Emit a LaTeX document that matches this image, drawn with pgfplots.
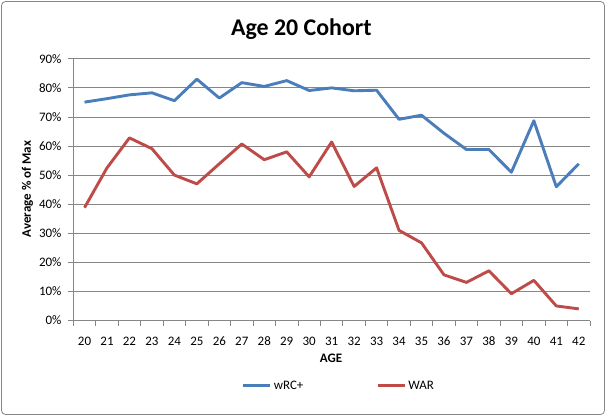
\documentclass[border=0pt]{standalone}
\usepackage{pgfplots}
\pgfplotsset{compat=1.18}
\usepackage{fontspec}
\setmainfont{Carlito}
\definecolor{wblue}{RGB}{74,126,187}
\definecolor{wred}{RGB}{190,75,72}
\definecolor{gridgray}{RGB}{134,134,134}
\begin{document}
\begin{tikzpicture}[x=1bp,y=1bp]
\path[use as bounding box] (-73.3,-95.5) rectangle (533.7,320.5);
\draw[gridgray, line width=0.8bp, rounded corners=4bp] (-71.8,-94) rectangle (531.2,319);
\begin{axis}[at={(0,0)}, anchor=south west, scale only axis,
  width=516.7bp, height=261.7bp,
  xmin=19.5, xmax=42.5, ymin=0, ymax=90,
  axis x line*=bottom, axis y line*=left,
  axis line style={gridgray, line width=0.8bp, -},
  /pgf/number format/assume math mode=true,
  xtick={20,...,42},
  minor xtick={19.5,20.5,...,42.5},
  major x tick style={draw=none},
  minor x tick style={gridgray, line width=0.8bp},
  ytick={0,10,...,90},
  yticklabels={0\%,10\%,20\%,30\%,40\%,50\%,60\%,70\%,80\%,90\%},
  major y tick style={gridgray, line width=0.8bp},
  tick align=outside, major tick length=5bp, minor tick length=5bp,
  ymajorgrids, major grid style={gridgray, line width=0.8bp},
  tick label style={font=\fontsize{13}{15}\selectfont, text=black},
  yticklabel style={anchor=east, inner sep=0pt, xshift=-6.6bp},
  xticklabel style={anchor=base, inner sep=0pt, yshift=-19.5bp},
  legend style={at={(0.514,-0.249)}, anchor=center, draw=none, fill=none,
    legend columns=2, font=\fontsize{13}{15}\selectfont, inner sep=0pt,
    /tikz/every even column/.append style={column sep=71bp}},
  legend image code/.code={\draw[#1] (0bp,0bp) -- (27bp,0bp);},
]
\addplot[wblue, line width=2.9bp, line join=round] coordinates {
(20,75.1) (21,76.3) (22,77.6) (23,78.3) (24,75.6) (25,83.0) (26,76.5) (27,81.8)
(28,80.5) (29,82.5) (30,79.1) (31,80.0) (32,79.0) (33,79.2) (34,69.2) (35,70.6)
(36,64.4) (37,58.8) (38,58.8) (39,51.0) (40,68.7) (41,46.0) (42,53.9)};
\addlegendentry{wRC+}
\addplot[wred, line width=2.9bp, line join=round] coordinates {
(20,38.8) (21,52.5) (22,62.8) (23,59.1) (24,50.0) (25,47.0) (26,53.9) (27,60.7)
(28,55.3) (29,58.0) (30,49.4) (31,61.4) (32,46.1) (33,52.5) (34,31.0) (35,26.7)
(36,15.7) (37,13.1) (38,17.1) (39,9.2) (40,13.8) (41,5.0) (42,4.0)};
\addlegendentry{WAR}
\end{axis}
\node[anchor=base, font=\bfseries\fontsize{24}{28}\selectfont, inner sep=0pt] at (228.1,285.5) {Age 20 Cohort};
\node[rotate=90, font=\bfseries\fontsize{13}{15}\selectfont, inner sep=0pt] at (-45.8,131.5) {Average \% of Max};
\node[font=\bfseries\fontsize{13}{15}\selectfont, inner sep=0pt] at (257.7,-37.5) {AGE};
\end{tikzpicture}
\end{document}
